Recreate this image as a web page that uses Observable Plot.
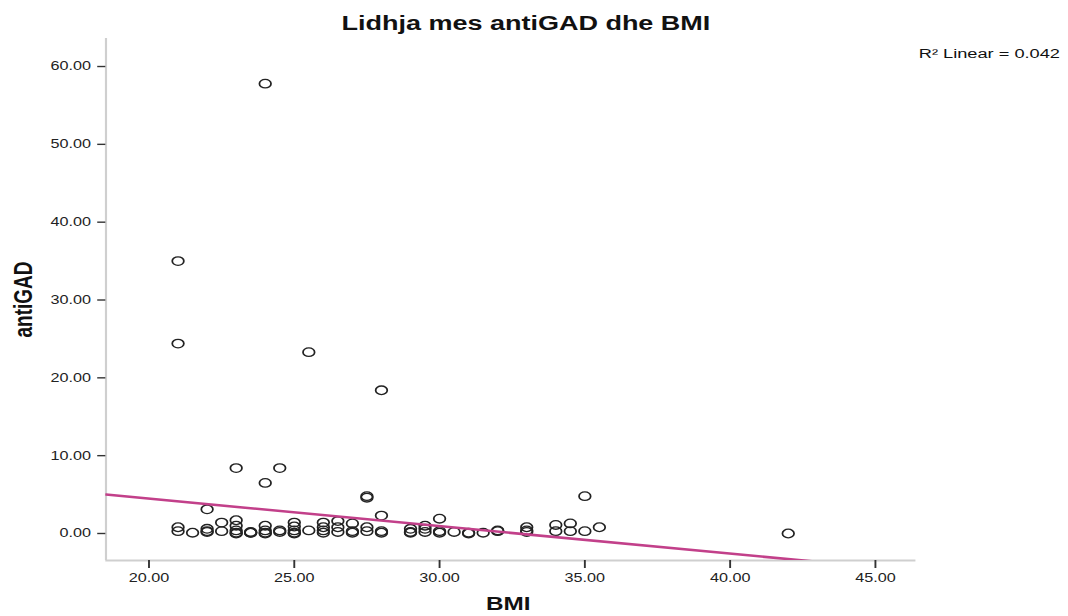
<!DOCTYPE html>
<html>
<head>
<meta charset="utf-8">
<script src="https://cdn.jsdelivr.net/npm/d3@7"></script>
<script src="https://cdn.jsdelivr.net/npm/@observablehq/plot@0.6"></script>
<style>
  html, body { margin: 0; padding: 0; background: #fff; }
  #chart svg { display: block; }
</style>
</head>
<body>
<div id="chart"></div>
<script>
// ---- data ----
const bmi = [
  21, 21, 21, 21,
  21.5,
  22, 22, 22, 22,
  22.5, 22.5,
  23, 23, 23, 23, 23, 23,
  23.5, 23.5, 23.5,
  24, 24, 24, 24, 24, 24,
  24.5, 24.5, 24.5,
  25, 25, 25, 25, 25,
  25.5, 25.5,
  26, 26, 26, 26,
  26.5, 26.5, 26.5,
  27, 27, 27,
  27.5, 27.5, 27.5, 27.5,
  28, 28, 28, 28,
  29, 29, 29,
  29.5, 29.5, 29.5,
  30, 30, 30,
  30.5,
  31, 31,
  31.5,
  32, 32,
  33, 33, 33,
  34, 34,
  34.5, 34.5,
  35, 35,
  35.5,
  42
];
const antiGAD = [
  35.0, 24.4, 0.8, 0.3,
  0.1,
  3.1, 0.6, 0.3, 0.2,
  1.4, 0.3,
  8.4, 1.7, 1.0, 0.4, 0.0, 0.1,
  0.1, 0.2, 0.1,
  57.8, 6.5, 1.0, 0.4, 0.1, 0.0,
  8.4, 0.4, 0.2,
  1.4, 0.9, 0.4, 0.1, 0.0,
  23.3, 0.4,
  1.4, 0.8, 0.4, 0.1,
  1.6, 0.8, 0.2,
  1.3, 0.3, 0.1,
  4.8, 4.6, 0.8, 0.3,
  18.4, 2.3, 0.3, 0.1,
  0.6, 0.2, 0.1,
  1.0, 0.6, 0.2,
  1.9, 0.3, 0.1,
  0.2,
  0.1, 0.0,
  0.1,
  0.4, 0.3,
  0.8, 0.4, 0.2,
  1.1, 0.3,
  1.3, 0.3,
  4.8, 0.3,
  0.8,
  0.0
];
// linear fit line as drawn in the reference (antiGAD = intercept + slope * BMI)
const fitIntercept = 11.54;
const fitSlope = -0.353;

const xTicks = [20, 25, 30, 35, 40, 45];
const yTicks = [0, 10, 20, 30, 40, 50, 60];
const xDomain = [18.52, 46.4];
const yDomain = [-3.47, 63.6];
const title = "Lidhja mes antiGAD dhe BMI";
const xLabel = "BMI";
const yLabel = "antiGAD";
const fitNote = "R\u00B2 Linear = 0.042";

const points = bmi.map((b, i) => ({bmi: b, antiGAD: antiGAD[i]}));

// horizontal stretch of the reference picture
const W = 1068, H = 616, SX = 1.35;
const w = Math.round(W / SX);
const FONT = "'Liberation Sans', Arial, sans-serif";

const chart = Plot.plot({
  width: w,
  height: H,
  marginLeft: 78,
  marginRight: w - 678,
  marginTop: 38,
  marginBottom: 56,
  style: {fontFamily: FONT, fontSize: "12px", color: "#222", background: "#fff"},
  x: {domain: xDomain, ticks: xTicks, tickFormat: d3.format(".2f"), label: null},
  y: {domain: yDomain, ticks: yTicks, tickFormat: d3.format(".2f"), label: null},
  marks: [
    Plot.ruleX([xDomain[0]], {stroke: "#cfcfcf", strokeWidth: 1.6}),
    Plot.ruleY([yDomain[0]], {stroke: "#cfcfcf", strokeWidth: 2}),
    Plot.axisX({ticks: xTicks, tickSize: 8, tickPadding: 5, tickFormat: d3.format(".2f"), stroke: "#333", strokeWidth: 1.4, fontSize: 12, fill: "#222", label: null}),
    Plot.axisY({ticks: yTicks, tickSize: 6, tickPadding: 5, tickFormat: d3.format(".2f"), stroke: "#333", strokeWidth: 1.4, fontSize: 12, fill: "#222", label: null}),
    Plot.dot(points, {x: "bmi", y: "antiGAD", r: 4.3, stroke: "#222", strokeWidth: 1.3, fill: "none"}),
    Plot.line(xDomain, {x: d => d, y: d => fitIntercept + fitSlope * d, stroke: "#c2408a", strokeWidth: 2.6, clip: true}),
    Plot.text([title], {frameAnchor: "top", dx: 11, dy: -23, fontSize: 20, fontWeight: "bold", fill: "#111"}),
    Plot.text([xLabel], {frameAnchor: "bottom", dx: -2, dy: 49, fontSize: 18, fontWeight: "bold", fill: "#111"}),
    Plot.text([yLabel], {frameAnchor: "left", textAnchor: "middle", dx: -61, rotate: -90, fontSize: 19, fontWeight: "bold", fill: "#111"}),
    Plot.text([fitNote], {frameAnchor: "top-right", textAnchor: "start", dx: 2, dy: 10, fontSize: 13.5, fill: "#111"})
  ]
});

chart.setAttribute("width", W);
chart.setAttribute("height", H);
chart.setAttribute("viewBox", `0 0 ${w} ${H}`);
chart.setAttribute("preserveAspectRatio", "none");
chart.style.maxWidth = "none";
chart.style.width = W + "px";
chart.style.height = H + "px";
document.getElementById("chart").appendChild(chart);
</script>
</body>
</html>
